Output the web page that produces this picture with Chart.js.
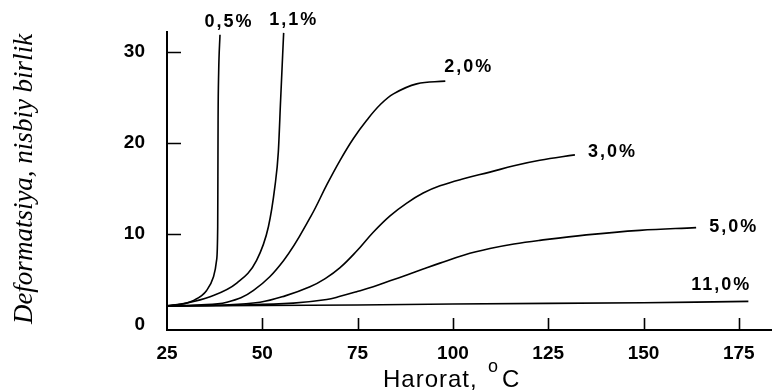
<!DOCTYPE html>
<html lang="uz">
  <head>
    <meta charset="UTF-8" />
    <meta name="viewport" content="width=device-width, initial-scale=1.0" />
    <title>Deformatsiya va harorat</title>
    <style>
      html,
      body {
        margin: 0;
        padding: 0;
        background: #fff;
      }
      .chartBox {
        position: relative;
        width: 772px;
        height: 392px;
      }
    </style>
  </head>

  <body>
    <div class="chartBox">
      <canvas id="deform"></canvas>
    </div>

    <script src="https://cdn.jsdelivr.net/npm/chart.js"></script>
    <script>
      // tick labels
      const xTicks = [25, 50, 75, 100, 125, 150, 175];
      const yTicks = [0, 10, 20, 30];

      // curve names (concentration)
      const seriesNames = ["0,5%", "1,1%", "2,0%", "3,0%", "5,0%", "11,0%"];

      // temperature (°C) and deformation values
      const temp05 = [25, 30, 32, 35.4, 37.2, 38.0, 38.3, 38.35, 38.4, 38.55, 38.9];
      const def05 = [2.1, 2.4, 2.7, 3.8, 5.3, 7.1, 10.8, 16.3, 22.5, 27.7, 31.9];

      const temp11 = [25, 30, 36.3, 43.3, 48.5, 51.6, 53.3, 54.2, 54.8, 55.6];
      const def11 = [2.1, 2.4, 3.1, 4.6, 7.1, 10.8, 15.2, 19.0, 24.7, 32.1];

      const temp20 = [25, 33, 40.7, 47.7, 55.6, 62.8, 66.9, 70.4, 73.9, 77.4, 80.9, 84.4, 90.5, 98];
      const def20 = [2.1, 2.2, 2.5, 3.8, 7.1, 12.0, 15.4, 18.1, 20.5, 22.5, 24.2, 25.4, 26.5, 26.8];

      const temp30 = [25, 40, 49.4, 56, 62.5, 66.5, 70.4, 74.7, 79.1, 83.5, 87.9, 92.2, 96.6, 103, 109.7, 116, 122.8, 132];
      const def30 = [2.1, 2.2, 2.5, 3.2, 4.2, 5.1, 6.3, 8.1, 10.2, 12.0, 13.4, 14.5, 15.3, 16.1, 16.8, 17.5, 18.1, 18.7];

      const temp50 = [25, 45, 58.1, 66.9, 70.4, 74.7, 79.1, 83.5, 87.9, 92.2, 96.6, 103, 109.7, 116, 122.8, 135, 149, 163.8];
      const def50 = [2.1, 2.2, 2.4, 2.8, 3.15, 3.65, 4.2, 4.85, 5.5, 6.15, 6.8, 7.7, 8.4, 8.9, 9.3, 9.9, 10.4, 10.7];

      const temp110 = [25, 75, 100, 150, 177.5];
      const def110 = [2.1, 2.2, 2.3, 2.45, 2.6];

      const temps = [temp05, temp11, temp20, temp30, temp50, temp110];
      const defs = [def05, def11, def20, def30, def50, def110];

      const pts = (xs, ys) => xs.map((x, i) => ({ x: x, y: ys[i] }));

      // where each curve name sits, relative to the end of the curve (px)
      const labelPlace = [
        { dx: 9, dy: -13, align: "center" },
        { dx: 10, dy: -13, align: "center" },
        { dx: -1, dy: -14, align: "left" },
        { dx: 13, dy: -3, align: "left" },
        { dx: 13, dy: -1, align: "left" },
        { dx: 3, dy: -16, align: "right" },
      ];

      const sans = "'Liberation Sans', Arial, sans-serif";

      // ticks drawn inside the axes + curve names + axis titles
      const decor = {
        id: "decor",
        afterDraw(chart) {
          const { ctx, chartArea: a } = chart;
          const x = chart.scales.x;
          const y = chart.scales.y;
          ctx.save();
          ctx.strokeStyle = "#000";
          ctx.lineWidth = 1.6;
          ctx.beginPath();
          x.ticks.forEach((t) => {
            if (t.value === x.min) return;
            const px = Math.round(x.getPixelForValue(t.value)) + 0.5;
            ctx.moveTo(px, a.bottom);
            ctx.lineTo(px, a.bottom - 12);
          });
          y.ticks.forEach((t) => {
            if (t.value === 0) return;
            const py = Math.round(y.getPixelForValue(t.value)) + 0.5;
            ctx.moveTo(a.left, py);
            ctx.lineTo(a.left + 14, py);
          });
          ctx.stroke();

          // curve names
          ctx.fillStyle = "#000";
          ctx.font = "bold 18px " + sans;
          ctx.letterSpacing = "2px";
          ctx.textBaseline = "middle";
          chart.data.datasets.forEach((ds, i) => {
            const last = ds.data[ds.data.length - 1];
            const p = labelPlace[i];
            ctx.textAlign = p.align;
            ctx.fillText(
              ds.label,
              x.getPixelForValue(last.x) + p.dx,
              y.getPixelForValue(last.y) + p.dy
            );
          });

          // x title with raised "o"
          ctx.textAlign = "left";
          ctx.textBaseline = "alphabetic";
          ctx.font = "24px " + sans;
          ctx.letterSpacing = "1px";
          ctx.fillText("Harorat,", 383, 387);
          ctx.fillText("C", 502, 387);
          ctx.font = "18px " + sans;
          ctx.fillText("o", 488, 372);
          ctx.letterSpacing = "0px";

          // y title
          ctx.translate(32, 179);
          ctx.rotate(-Math.PI / 2);
          ctx.textAlign = "center";
          ctx.font = "italic 27px 'Liberation Serif', 'Times New Roman', serif";
          ctx.fillText("Deformatsiya, nisbiy birlik", 0, 0);
          ctx.restore();
        },
      };

      const chart = new Chart(document.getElementById("deform"), {
        type: "line",
        data: {
          datasets: seriesNames.map((name, i) => ({
            label: name,
            data: pts(temps[i], defs[i]),
            borderColor: "#000",
            borderWidth: 1.6,
            pointRadius: 0,
            fill: false,
            // the two steep curves need monotone, the rest a plain spline
            cubicInterpolationMode: i < 2 ? "monotone" : "default",
            tension: 0.4,
          })),
        },
        options: {
          responsive: true,
          maintainAspectRatio: false,
          animation: false,
          layout: { padding: { top: 32, right: 0, left: 0, bottom: 0 } },
          plugins: {
            legend: { display: false },
            tooltip: { enabled: false },
          },
          scales: {
            x: {
              type: "linear",
              min: 25,
              max: 183.7,
              afterBuildTicks: (s) => {
                s.ticks = xTicks.map((v) => ({ value: v }));
              },
              afterFit: (s) => {
                s.height = 62;
              },
              grid: { display: false },
              border: { display: true, color: "#000", width: 2 },
              ticks: {
                color: "#000",
                padding: 4,
                maxRotation: 0,
                font: { family: sans, size: 19, weight: "bold" },
              },
            },
            y: {
              type: "linear",
              min: -0.55,
              max: 32.2,
              afterBuildTicks: (s) => {
                s.ticks = yTicks.map((v) => ({ value: v }));
              },
              afterFit: (s) => {
                s.width = 167;
              },
              grid: { display: false },
              border: { display: true, color: "#000", width: 2 },
              ticks: {
                color: "#000",
                padding: 14,
                font: { family: sans, size: 19, weight: "bold" },
              },
            },
          },
        },
        plugins: [decor],
      });
    </script>
  </body>
</html>
